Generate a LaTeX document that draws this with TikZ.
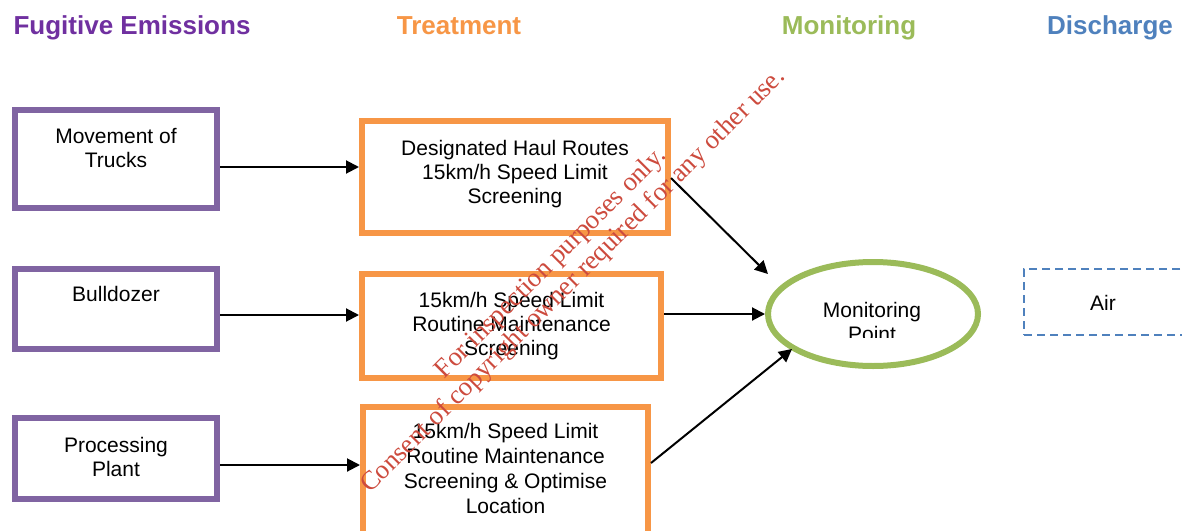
\documentclass[tikz,border=0pt]{standalone}
\usepackage{fontspec}
\setmainfont{Liberation Sans}
\newfontfamily\wmfont{Liberation Serif}
\usetikzlibrary{arrows.meta,shapes.geometric}
\definecolor{hpurple}{HTML}{7030A0}
\definecolor{bpurple}{HTML}{8064A2}
\definecolor{borange}{HTML}{F79646}
\definecolor{bgreen}{HTML}{9BBB59}
\definecolor{bblue}{HTML}{4F81BD}
\definecolor{wmred}{RGB}{205,75,62}
\begin{document}
\begin{tikzpicture}[x=1pt,y=-1pt,
  hdr/.style={anchor=base, inner sep=0pt, font=\fontsize{26}{30}\selectfont\bfseries},
  srcbox/.style={draw=bpurple, line width=6pt, inner sep=0pt},
  trtbox/.style={draw=borange, line width=6pt, inner sep=0pt},
  txt/.style={anchor=base, align=center, inner sep=0pt, font=\fontsize{21}{24}\selectfont},
  arr/.style={draw=black, line width=2pt, -{Triangle[length=13pt,width=13pt]}},
  wm/.style={anchor=base, rotate=45, inner sep=0pt, text=wmred, font=\wmfont\fontsize{26.7}{30}\selectfont}]
\clip (0,0) rectangle (1182,530);
\fill[white] (0,0) rectangle (1182,530);
% headers
\node[hdr, text=hpurple] (h1) at (132,34) {Fugitive Emissions};
\node[hdr, text=borange] (h2) at (459,34) {Treatment};
\node[hdr, text=bgreen] (h3) at (849,34) {Monitoring};
\node[hdr, text=bblue] (h4) at (1110,34) {Discharge};
% sources
\node[srcbox, minimum width=202pt, minimum height=98pt] (p1) at (116,159) {};
\node[srcbox, minimum width=202pt, minimum height=80pt] (p2) at (116,309) {};
\node[srcbox, minimum width=202pt, minimum height=81pt] (p3) at (116,458.5) {};
\node[txt] (p1t) at (116,167) {Movement of\\Trucks};
\node[txt] (p2t) at (116,301) {Bulldozer};
\node[txt] (p3t) at (116,476) {Processing\\Plant};
% treatment
\node[trtbox, minimum width=306pt, minimum height=112pt] (o1) at (515,177) {};
\node[trtbox, minimum width=299pt, minimum height=104pt] (o2) at (511.5,326) {};
\node[trtbox, minimum width=285pt, minimum height=153pt] (o3) at (505.5,483.5) {};
\node[txt] (o1t) at (515,203) {Designated Haul Routes\\15km/h Speed Limit\\Screening};
\node[txt] (o2t) at (511.5,355) {15km/h Speed Limit\\Routine Maintenance\\Screening};
\node[txt, font=\fontsize{21}{25}\selectfont] (o3t) at (505.5,513) {15km/h Speed Limit\\Routine Maintenance\\Screening \& Optimise\\Location};
% monitoring
\node[ellipse, draw=bgreen, line width=6pt, minimum width=210pt, minimum height=104pt, inner sep=0pt] (m) at (873,314) {};
\node[txt] (mt) at (872,317) {Monitoring};
\begin{scope}
\clip (760,250) rectangle (990,337.5);
\node[txt] (mt2) at (872,341) {Point};
\end{scope}
% discharge
\node[draw=bblue, line width=2pt, dash pattern=on 8pt off 5pt, minimum width=162pt, minimum height=66pt, inner sep=0pt] (air) at (1105,302) {};
\node[txt] (airt) at (1103,310) {Air};
% connectors
\draw[arr] ([yshift=-8pt]p1.east) -- ([yshift=-8pt]p1.east -| o1.west);
\draw[arr] ([yshift=-6pt]p2.east) -- ([yshift=-6pt]p2.east -| o2.west);
\draw[arr] ([yshift=-6.5pt]p3.east) -- ([yshift=-6.5pt]p3.east -| o3.west);
\coordinate (e1) at (768,274);
\coordinate (e3) at (792,349);
\draw[arr] ([yshift=-1pt]o1.east) -- (e1);
\draw[arr] (o2.east |- m.west) -- (m.west);
\draw[arr] ([yshift=20.5pt]o3.east) -- (e3);
% watermark
\node[wm] (w1) at (556,268) {For inspection purposes only.};
\node[wm] (w2) at (578,286) {Consent of copyright owner required for any other use.};
\end{tikzpicture}
\end{document}
